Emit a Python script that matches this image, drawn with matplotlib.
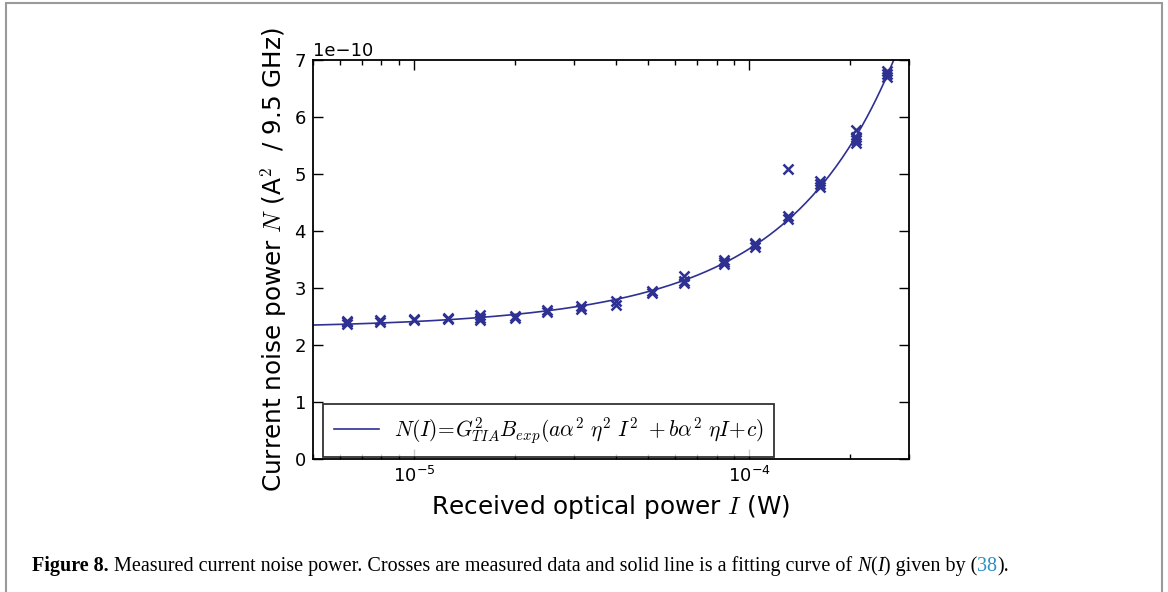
import matplotlib
matplotlib.use('Agg')
import matplotlib.pyplot as plt
import numpy as np
from matplotlib.patches import Rectangle

# Received optical power (W), one entry per measurement point
potencia = [6.3e-6, 7.9e-6, 1.0e-5, 1.26e-5, 1.58e-5, 2.0e-5, 2.5e-5, 3.15e-5,
            4.0e-5, 5.15e-5, 6.4e-5, 8.4e-5, 1.04e-4, 1.31e-4, 1.63e-4, 2.08e-4, 2.58e-4]

# Repeated noise readings at each point (units of 1e-10 A^2 / 9.5 GHz)
ruido = [
    [2.37, 2.40, 2.42],
    [2.41, 2.43],
    [2.44, 2.46],
    [2.46, 2.48],
    [2.43, 2.48, 2.52],
    [2.47, 2.51],
    [2.58, 2.61],
    [2.64, 2.69],
    [2.71, 2.77],
    [2.91, 2.94],
    [3.08, 3.13, 3.21],
    [3.42, 3.46, 3.50],
    [3.72, 3.77, 3.79],
    [4.21, 4.26, 5.08],
    [4.77, 4.83, 4.87],
    [5.54, 5.59, 5.65, 5.77],
    [6.70, 6.76, 6.81],
]

# Fitted curve N(I) = c + b*I + a*I^2 (units of 1e-10)
coef_c = 2.29
coef_b = 1.19e4
coef_a = 2.05e7

color_datos = '#2e3192'

plt.rcParams['mathtext.fontset'] = 'cm'
plt.rcParams['font.family'] = 'DejaVu Sans'

fig = plt.figure(figsize=(11.68, 5.92), dpi=100)
ax = fig.add_axes([313 / 1168, 1 - 459 / 592, (909 - 313) / 1168, (459 - 60) / 592])

# measured crosses
xs, ys = [], []
for p, lecturas in zip(potencia, ruido):
    for v in lecturas:
        xs.append(p)
        ys.append(v * 1e-10)
ax.plot(xs, ys, linestyle='none', marker='x', markersize=7, markeredgewidth=1.8,
        color=color_datos)

# fit curve
curva_x = np.logspace(np.log10(5e-6), np.log10(3e-4), 400)
curva_y = (coef_c + coef_b * curva_x + coef_a * curva_x ** 2) * 1e-10
ax.plot(curva_x, curva_y, '-', color=color_datos, linewidth=1.2,
        label=r'$N(I)\!=\!G_{TIA}^2 B_{exp}(a\alpha^2\ \eta^2\ I^2\ +b\alpha^2\ \eta I\!+\!c)$')

ax.set_xscale('log')
ax.set_xlim(5e-6, 3e-4)
ax.set_ylim(0, 7e-10)
ax.set_yticks(np.arange(0, 8) * 1e-10)

ax.tick_params(which='both', direction='in', top=True, right=True, labelsize=13, pad=5)
ax.tick_params(which='major', length=7, width=1)
ax.tick_params(which='minor', length=3.5, width=1)
ax.yaxis.get_offset_text().set_fontsize(13)
for s in ax.spines.values():
    s.set_linewidth(1.3)

ax.set_xlabel(r'Received optical power $I$ (W)', fontsize=17.8, labelpad=5)
ax.set_ylabel(r'Current noise power $N$ (A$^2$  / 9.5 GHz)', fontsize=17.8, labelpad=4)

leg = ax.legend(loc='lower left', bbox_to_anchor=(10 / 596, 2.5 / 399), fontsize=15.4,
                frameon=True, fancybox=False, borderaxespad=0.0, handlelength=2.1,
                handletextpad=0.7, borderpad=0.5)
leg.get_frame().set_edgecolor('black')
leg.get_frame().set_linewidth(1.3)

# outer page frame
fig.patches.append(Rectangle((6 / 1168, -0.1), (1162 - 6) / 1168, 1.1 - 3 / 592,
                             transform=fig.transFigure, fill=False,
                             edgecolor='#9a9a9a', linewidth=1.5))

# caption, drawn piece by piece
partes = [
    ('Figure 8.', 'bold', 'normal', 'black'),
    (' Measured current noise power. Crosses are measured data and solid line is a fitting curve of ', 'normal', 'normal', 'black'),
    ('N', 'normal', 'italic', 'black'),
    ('(', 'normal', 'normal', 'black'),
    ('I', 'normal', 'italic', 'black'),
    (') given by (', 'normal', 'normal', 'black'),
    ('38', 'normal', 'normal', '#2a8fc7'),
    (').', 'normal', 'normal', 'black'),
]
fig.canvas.draw()
rend = fig.canvas.get_renderer()
x_px = 32
for txt, peso, estilo, col in partes:
    t = fig.text(x_px / 1168, 1 - 571 / 592, txt, fontsize=14.5, family='Liberation Serif',
                 weight=peso, style=estilo, color=col, va='baseline', ha='left')
    bb = t.get_window_extent(renderer=rend)
    x_px += bb.width

fig.savefig('out.png', dpi=100)
